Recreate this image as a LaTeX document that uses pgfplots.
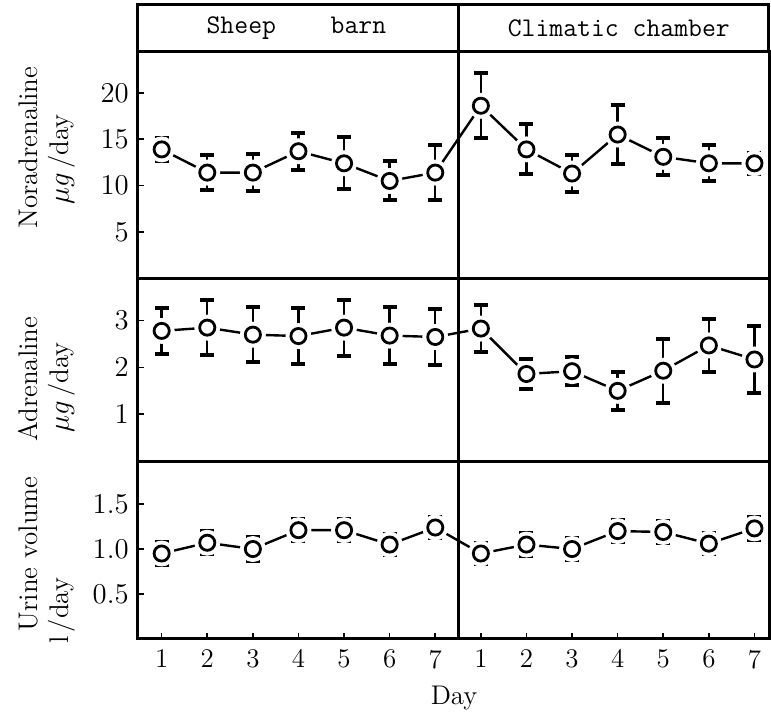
\documentclass[border=0pt]{standalone}
\usepackage{pgfplots}
\usepackage{pgfplotstable}
\pgfplotsset{compat=1.18}

\pgfplotstableread{
x y e
1 13.9 1.2
2 11.4 1.9
3 11.4 2.0
4 13.7 2.0
5 12.4 2.8
6 10.5 2.1
7 11.4 3.0
8 18.6 3.5
9 13.9 2.7
10 11.3 1.95
11 15.5 3.15
12 13.1 2.0
13 12.4 1.95
14 12.4 1.1
}\noradr

\pgfplotstableread{
x y e
1 2.78 0.49
2 2.85 0.59
3 2.70 0.58
4 2.67 0.60
5 2.85 0.60
6 2.68 0.60
7 2.65 0.60
8 2.83 0.50
9 1.86 0.32
10 1.92 0.30
11 1.50 0.40
12 1.93 0.68
13 2.47 0.57
14 2.17 0.72
}\adr

\pgfplotstableread{
x y e
1 0.95 0.13
2 1.07 0.13
3 1.00 0.13
4 1.21 0.12
5 1.21 0.12
6 1.05 0.12
7 1.24 0.12
8 0.95 0.12
9 1.05 0.13
10 1.00 0.12
11 1.20 0.12
12 1.19 0.12
13 1.06 0.12
14 1.23 0.13
}\urine

\pgfplotsset{
  panel/.style={
    scale only axis, width=316.5pt,
    xmin=0.475, xmax=14.33,
    axis line style={line width=1.5pt},
    tick style={line width=0.8pt, black},
    tick align=inside, major tick length=3pt,
    ytick pos=left, xtick pos=bottom,
    tick label style={font=\fontsize{13.5}{15}\selectfont},
    yticklabel style={xshift=-1pt},
  },
  seriesline/.style={black, line width=1.2pt, mark=none},
  halo/.style={only marks, white, mark=*, mark size=6.3pt, mark options={draw=white, fill=white}},
  pts/.style={only marks, mark=o, mark size=3.8pt, black,
    mark options={draw=black, fill=white, line width=1.4pt},
    error bars/.cd, y dir=both, y explicit,
    error bar style={line width=1.2pt, black},
    error mark options={rotate=90, mark size=3.5pt, line width=2pt, black}},
}

\begin{document}
\begin{tikzpicture}[x=0.5pt,y=0.5pt]
\path (0,0) rectangle (771,711);

% Panel 1: Noradrenaline
\begin{axis}[panel, at={(69pt,216pt)}, anchor=south west, height=113.5pt,
  ymin=0, ymax=24.4, ytick={5,10,15,20}, xtick=\empty]
\addplot[seriesline] table[x=x,y=y] {\noradr};
\addplot[halo] table[x=x,y=y] {\noradr};
\addplot[pts] table[x=x,y=y,y error=e] {\noradr};
\end{axis}

% Panel 2: Adrenaline
\begin{axis}[panel, at={(69pt,124.5pt)}, anchor=south west, height=91.5pt,
  ymin=0, ymax=3.9, ytick={1,2,3}, xtick=\empty]
\addplot[seriesline] table[x=x,y=y] {\adr};
\addplot[halo] table[x=x,y=y] {\adr};
\addplot[pts] table[x=x,y=y,y error=e] {\adr};
\end{axis}

% Panel 3: Urine volume
\begin{axis}[panel, at={(69pt,35.5pt)}, anchor=south west, height=89pt,
  ymin=0, ymax=1.98, ytick={0.5,1,1.5},
  yticklabel style={/pgf/number format/.cd, fixed, fixed zerofill, precision=1},
  xtick={1,...,14}, xticklabels={1,2,3,4,5,6,7,1,2,3,4,5,6,7},
  xticklabel style={yshift=-2pt}]
\addplot[seriesline] table[x=x,y=y] {\urine};
\addplot[halo] table[x=x,y=y] {\urine};
\addplot[pts] table[x=x,y=y,y error=e] {\urine};
\end{axis}

% header and divider
\draw[line width=1.5pt] (138,706) rectangle (769.5,659);
\draw[line width=1.5pt] (459,706) -- (459,71);
\node[font=\ttfamily\fontsize{13.5}{15}\selectfont] at (297,683) {Sheep\quad\ \ barn};
\node[font=\ttfamily\fontsize{13.5}{15}\selectfont] at (620,683) {Climatic chamber};

% y labels
\begin{scope}[every node/.style={font=\fontsize{13.5}{15}\selectfont, rotate=90}]
\node at (28,563) {Noradrenaline};
\node at (62,551) {$\mu g$\,/day};
\node at (28,331) {Adrenaline};
\node at (62,323) {$\mu g$\,/day};
\node at (28,156) {Urine volume};
\node at (62,99) {l\,/day};
\end{scope}
\node[font=\fontsize{13.5}{15}\selectfont] at (455,12) {Day};
\end{tikzpicture}
\end{document}
